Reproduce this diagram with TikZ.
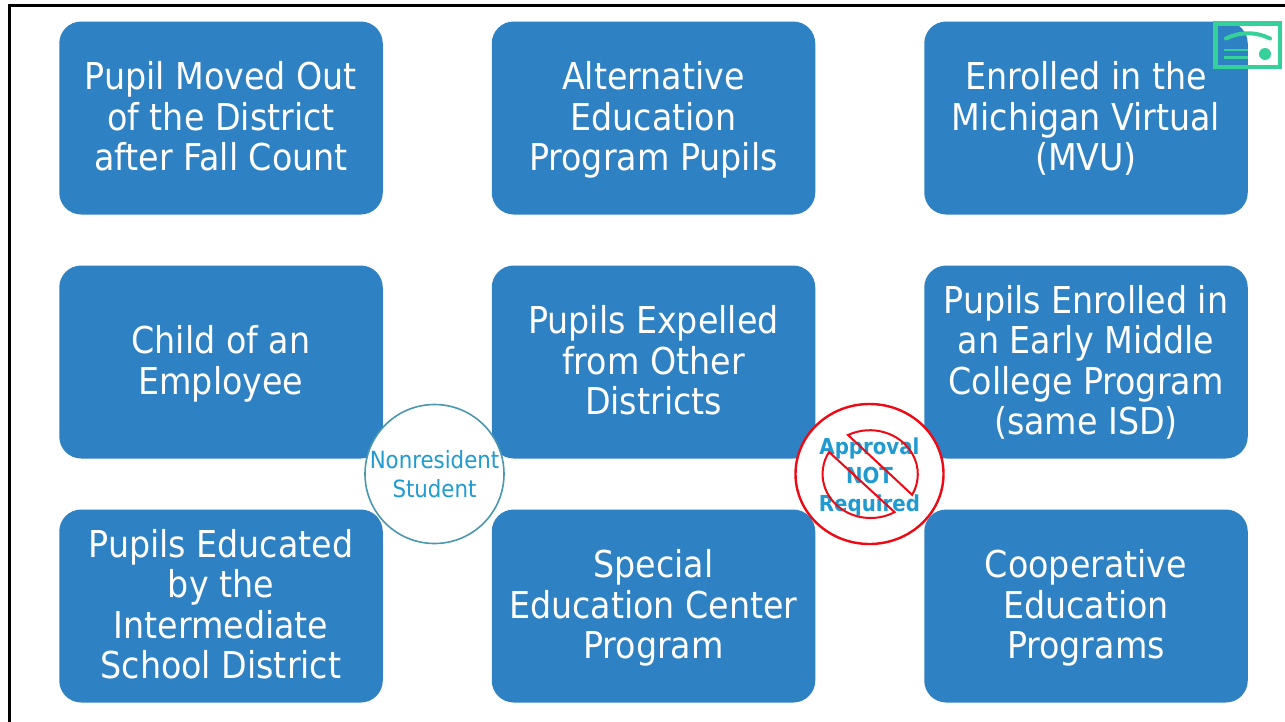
\documentclass[tikz,border=0pt]{standalone}
\usepackage{fontspec}
\setmainfont{DejaVu Sans Condensed}
\usetikzlibrary{shapes.geometric}
\definecolor{boxblue}{HTML}{2E81C2}
\definecolor{txtblue}{HTML}{1F9BD1}
\definecolor{ringblue}{HTML}{4A97B0}
\definecolor{icongreen}{HTML}{36D09A}
\definecolor{nored}{HTML}{EE0A14}
\newcommand\lt{\rule{0pt}{34pt}}
\newcommand\lb{\rule[-10pt]{0pt}{0pt}}
\tikzset{
  x=1pt,y=1pt,
  card/.style={rectangle,rounded corners=22pt,fill=boxblue,text=white,minimum width=323.5pt,minimum height=193pt,align=center,inner sep=0pt,font=\fontsize{37}{40.3}\selectfont},
  badge/.style={fill=white,align=center,inner sep=0pt,text=txtblue},
}
\begin{document}
\begin{tikzpicture}
\useasboundingbox (0,-721) rectangle (1285,0);
\fill[white] (0,-721) rectangle (1285,0);
\draw[black,line width=2.6pt] (9.3,-730) -- (9.3,-5.5) -- (1295,-5.5);
\node[card] (a1) at (221,-118) {\lt Pupil Moved Out\\of the District\\\lb after Fall Count};
\node[card] (a2) at (653.5,-118) {\lt Alternative\\Education\\\lb Program Pupils};
\node[card] (a3) at (1086,-118) {\lt Enrolled in the\\Michigan Virtual\\\lb (MVU)};
\node[card] (b1) at (221,-362) {\lt Child of an\\\lb Employee};
\node[card] (b2) at (653.5,-362) {\lt Pupils Expelled\\from Other\\\lb Districts};
\node[card] (b3) at (1086,-362) {\lt Pupils Enrolled in\\an Early Middle\\College Program\\\lb (same ISD)};
\node[card] (c1) at (221,-606) {\lt Pupils Educated\\by the\\Intermediate\\\lb School District};
\node[card] (c2) at (653.5,-606) {\lt Special\\Education Center\\\lb Program};
\node[card] (c3) at (1086,-606) {\lt Cooperative\\Education\\\lb Programs};
\node[badge,shape=circle,draw=ringblue,line width=1.6pt,minimum size=139pt,font=\fontsize{23.7}{29}\selectfont] (n1) at (434.5,-474) {Nonresident\\Student};
\node[badge,shape=ellipse,draw=nored,line width=2.4pt,minimum width=148pt,minimum height=140pt,font=\fontsize{22}{28.5}\selectfont\bfseries] (n2) at (869.5,-474) {\rule{0pt}{23pt}Approval\\NOT\\Required};
\begin{scope}[shift={(870,-474)},draw=nored,line width=2pt,line join=miter]
  \draw (-22,39) arc[start angle=117,end angle=-28,x radius=48,y radius=44] -- cycle;
  \draw (-41,22) arc[start angle=150,end angle=300,x radius=48,y radius=44] -- cycle;
\end{scope}
\begin{scope}[icongreen]
  \draw[line width=4.4pt] (1215.5,-23.5) rectangle (1280,-67);
  \draw[line width=4pt,line cap=round] (1226,-38.5) .. controls (1240,-31.5) and (1256,-31.5) .. (1270,-38.5);
  \draw[line width=2.6pt] (1224,-50) -- (1248,-50);
  \draw[line width=2.6pt] (1224,-57.5) -- (1248,-57.5);
  \fill (1265,-54) circle[radius=6];
\end{scope}
\end{tikzpicture}
\end{document}
